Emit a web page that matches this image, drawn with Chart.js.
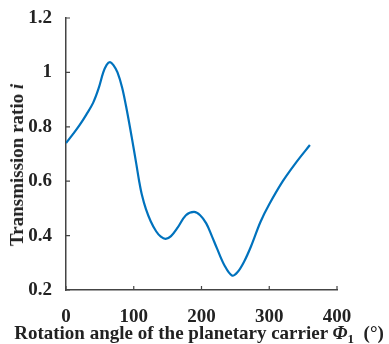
<!DOCTYPE html>
<html>
<head>
<meta charset="utf-8">
<script src="https://cdn.jsdelivr.net/npm/chart.js@4.4.1/dist/chart.umd.min.js"></script>
<style>
  html, body { margin: 0; padding: 0; background: #fff; }
  #wrap { position: relative; width: 389px; height: 344px; }
  #c { position: absolute; left: 0; top: 0; }
  .axis-title {
    position: absolute;
    font-family: 'Liberation Serif', 'Times New Roman', serif;
    font-weight: bold;
    font-size: 19px;
    line-height: 22px;
    color: #222;
    white-space: nowrap;
  }
  #xtitle { left: 199px; top: 322px; transform: translateX(-50%); }
  #ytitle { left: 17px; top: 165px; transform: translate(-50%, -50%) rotate(-90deg); }
  sub { font-size: 13px; vertical-align: -4px; line-height: 0; }
</style>
</head>
<body>
<div id="wrap">
  <canvas id="c" width="389" height="344"></canvas>
  <div class="axis-title" id="ytitle">Transmission ratio <i>i</i></div>
  <div class="axis-title" id="xtitle">Rotation angle of the planetary carrier <i>&Phi;</i><sub>1</sub>&nbsp;&nbsp;(&deg;)</div>
</div>
<script>
// rotation angle of the planetary carrier (deg)
const angles = [0, 10, 20, 30, 40, 48, 55, 60, 65, 70, 76, 83, 90, 97, 104, 108, 112, 118, 125, 133, 140,
  147, 155, 165, 177, 189, 198, 207, 215, 223, 234, 245, 253, 263, 273, 287, 300, 320, 340, 360];
// transmission ratio i
const ratios = [0.74, 0.772, 0.806, 0.845, 0.888, 0.94, 1.0, 1.028, 1.038, 1.027, 1.0, 0.943, 0.858, 0.762, 0.66, 0.6, 0.55, 0.497, 0.453, 0.416, 0.396,
  0.388, 0.398, 0.43, 0.475, 0.487, 0.475, 0.445, 0.40, 0.352, 0.29, 0.253, 0.265, 0.305, 0.36, 0.45, 0.515, 0.60, 0.67, 0.733];

const xTicks = [0, 100, 200, 300, 400];
const yTicks = [0.2, 0.4, 0.6, 0.8, 1, 1.2];

const axisColor = '#444';
const tickFont = { family: "'Liberation Serif', 'Times New Roman', serif", size: 19, weight: 'bold' };

// inward tick marks like the original figure
const innerTicks = {
    id: 'innerTicks',
    afterDraw(chart) {
        const { ctx, chartArea, scales } = chart;
        ctx.save();
        ctx.strokeStyle = axisColor;
        ctx.lineWidth = 1.2;
        ctx.beginPath();
        xTicks.forEach(v => {
            const x = scales.x.getPixelForValue(v);
            ctx.moveTo(x, chartArea.bottom);
            ctx.lineTo(x, chartArea.bottom - 4);
        });
        yTicks.forEach(v => {
            const y = scales.y.getPixelForValue(v);
            ctx.moveTo(chartArea.left, y);
            ctx.lineTo(chartArea.left + 4, y);
        });
        ctx.stroke();
        ctx.restore();
    }
};

const points = angles.map((a, i) => ({ x: a, y: ratios[i] }));

new Chart(document.getElementById('c'), {
    type: 'scatter',
    data: {
        datasets: [{
            data: points,
            showLine: true,
            borderColor: '#0072BD',
            borderWidth: 2.2,
            pointRadius: 0,
            tension: 0.35,
            fill: false
        }]
    },
    options: {
        responsive: false,
        animation: false,
        events: [],
        layout: { padding: { left: 0, top: 18, right: 52, bottom: 0 } },
        plugins: { legend: { display: false }, tooltip: { enabled: false } },
        scales: {
            x: {
                type: 'linear',
                min: 0, max: 400,
                afterBuildTicks: s => { s.ticks = xTicks.map(v => ({ value: v })); },
                afterFit: s => { s.height = 54; },
                grid: { display: false },
                border: { display: true, color: axisColor, width: 1.5 },
                ticks: { font: tickFont, color: '#222', padding: 8, maxRotation: 0 }
            },
            y: {
                type: 'linear',
                min: 0.2, max: 1.2,
                afterBuildTicks: s => { s.ticks = yTicks.map(v => ({ value: v })); },
                afterFit: s => { s.width = 66; },
                grid: { display: false },
                border: { display: true, color: axisColor, width: 1.5 },
                ticks: {
                    font: tickFont, color: '#222', padding: 6,
                    callback: v => String(Number(v.toFixed(1)))
                }
            }
        }
    },
    plugins: [innerTicks]
});
</script>
</body>
</html>
